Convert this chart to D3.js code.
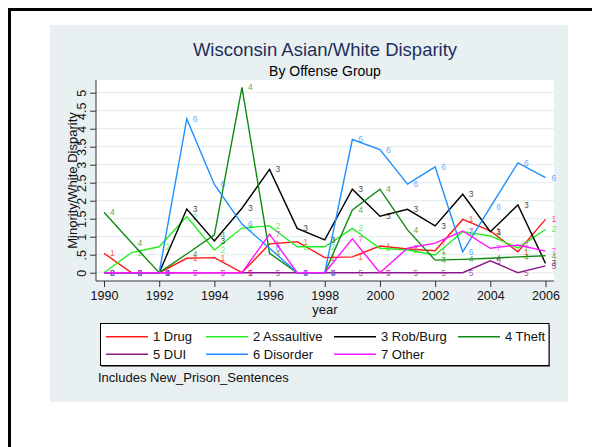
<!DOCTYPE html>
<html><head><meta charset="utf-8">
<script src="https://cdn.jsdelivr.net/npm/d3@7"></script>
<style>body{margin:0;background:#fff;} text{font-family:"Liberation Sans",Arial,sans-serif;}</style>
</head><body><svg id="c" width="592" height="447"></svg>
<script>
const years = [1990,1991,1992,1993,1994,1995,1996,1997,1998,1999,2000,2001,2002,2003,2004,2005,2006];
const seriesNames = ["1 Drug","2 Assaultive","3 Rob/Burg","4 Theft","5 DUI","6 Disorder","7 Other"];
const seriesLabels = ["1","2","3","4","5","6","7"];
const seriesColors = ["#ff1a1a","#22ee22","#000000","#108a10","#8b1a8b","#1e8fff","#ff14ff"];
const drug       = [0.54,0,0,0.40,0.42,0,0.80,0.86,0.42,0.44,0.74,0.66,0.61,1.48,1.16,0.58,1.48];
const assaultive = [0,0.56,0.72,1.56,0.63,1.24,1.30,0.72,0.72,1.23,0.68,0.63,0.49,1.14,1.02,0.69,1.20];
const robburg    = [0,0,0,1.77,0.88,1.79,2.87,1.23,0.91,2.32,1.57,1.76,1.30,2.18,1.14,1.88,0.26];
const theft      = [1.68,0.83,0,0.52,1.05,5.15,0.54,0,0,1.74,2.32,1.19,0.35,0.37,0.40,0.44,0.47];
const dui        = [0,0,0,0,0,0,0,0,0,0,0,0,0,0,0.33,0,0.19];
const disorder   = [0,0,0,4.27,2.45,1.35,0.68,0,0,3.70,3.42,2.46,2.94,0.58,1.82,3.05,2.64];
const other      = [0,0,0,0,0,0,1.07,0,0,0.94,0,0.68,0.82,1.16,0.68,0.77,0.60];
const allSeries = [drug,assaultive,robburg,theft,dui,disorder,other];
const xTicks = [1990,1992,1994,1996,1998,2000,2002,2004,2006];
const yTicks = [0,0.5,1,1.5,2,2.5,3,3.5,4,4.5,5];
const yTickLabels = ["0",".5","1","1.5","2","2.5","3","3.5","4","4.5","5"];
const title = "Wisconsin Asian/White Disparity";
const subtitle = "By Offense Group";
const xTitle = "year";
const yTitle = "Minority/White Disparity";
const note = "Includes New_Prison_Sentences";

const svg = d3.select("#c");
// outer frame
svg.append("rect").attr("x",9.5).attr("y",9.5).attr("width",640).attr("height",480)
  .attr("fill","#fff").attr("stroke","#000").attr("stroke-width",3);
// graph region
svg.append("rect").attr("x",50).attr("y",25).attr("width",518).attr("height",377).attr("fill","#e9f0f2");
// plot region
const P = {l:96, r:554, t:80, b:281};
svg.append("rect").attr("x",P.l).attr("y",P.t).attr("width",P.r-P.l).attr("height",P.b-P.t).attr("fill","#fff");

const x = d3.scaleLinear().domain([1990,2006]).range([104,545.5]);
const y = d3.scaleLinear().domain([0,5]).range([272.7,92.7]);

// grid
svg.append("g").selectAll("line").data(yTicks).join("line")
  .attr("x1",P.l).attr("x2",P.r).attr("y1",d=>y(d)).attr("y2",d=>y(d))
  .attr("stroke","#e2eaec").attr("stroke-width",1);

// axes
const yAxis = d3.axisLeft(y).tickValues(yTicks).tickFormat((d,i)=>yTickLabels[i]).tickSize(6).tickPadding(3);
const gy = svg.append("g").attr("transform",`translate(${P.l},0)`).call(yAxis);
gy.select(".domain").attr("d",`M0,${P.t}V${P.b}`).attr("stroke","#333");
gy.selectAll(".tick line").attr("stroke","#333");
gy.selectAll(".tick text").attr("font-size",12.5).attr("fill","#111")
  .attr("text-anchor","middle").attr("x",0).attr("dy",0)
  .attr("transform","translate(-10,0) rotate(-90)");

const xAxis = d3.axisBottom(x).tickValues(xTicks).tickFormat(d3.format("d")).tickSize(6).tickPadding(4);
const gx = svg.append("g").attr("transform",`translate(0,${P.b})`).call(xAxis);
gx.select(".domain").attr("d",`M${P.l},0H${P.r}`).attr("stroke","#333");
gx.selectAll(".tick line").attr("stroke","#333");
gx.selectAll(".tick text").attr("font-size",12.5).attr("fill","#111");

// titles
svg.append("text").attr("x",(P.l+P.r)/2).attr("y",56).attr("text-anchor","middle")
  .attr("font-size",18.5).attr("fill","#1e2f5e").text(title);
svg.append("text").attr("x",(P.l+P.r)/2).attr("y",75.5).attr("text-anchor","middle")
  .attr("font-size",14).attr("fill","#000").text(subtitle);
svg.append("text").attr("x",(P.l+P.r)/2).attr("y",314).attr("text-anchor","middle")
  .attr("font-size",13).attr("fill","#111").text(xTitle);
svg.append("text").attr("transform",`translate(77,${(P.t+P.b)/2}) rotate(-90)`).attr("text-anchor","middle")
  .attr("font-size",13).attr("fill","#111").text(yTitle);

// series
const line = d3.line().x((d,i)=>x(years[i])).y(d=>y(d));
allSeries.forEach((s,k)=>{
  const g = svg.append("g");
  g.append("path").attr("d",line(s)).attr("fill","none").attr("stroke",seriesColors[k]).attr("stroke-width",1.4);
  g.selectAll("text").data(s).join("text")
    .attr("x",(d,i)=>x(years[i])+6).attr("y",d=>y(d)).attr("dy","0.35em")
    .attr("font-size",8.5).attr("fill",seriesColors[k]).attr("fill-opacity",0.75).text(seriesLabels[k]);
});

// legend
const L = {x:100.5, y:323.5, w:448.5, h:42};
svg.append("rect").attr("x",L.x+1).attr("y",L.y+1.5).attr("width",L.w).attr("height",L.h).attr("fill","#777");
svg.append("rect").attr("x",L.x).attr("y",L.y).attr("width",L.w).attr("height",L.h).attr("fill","#fff").attr("stroke","#000").attr("stroke-width",1);
const colX = [106,206,334,458];
const rowY = [336.7,354.3];
seriesNames.forEach((n,k)=>{
  const c = k%4, r = Math.floor(k/4);
  svg.append("line").attr("x1",colX[c]).attr("x2",colX[c]+42).attr("y1",rowY[r]).attr("y2",rowY[r])
    .attr("stroke",seriesColors[k]).attr("stroke-width",1.4);
  svg.append("text").attr("x",colX[c]+47).attr("y",rowY[r]).attr("dy","0.35em")
    .attr("font-size",13).attr("fill","#111").text(n);
});
svg.append("text").attr("x",98).attr("y",382).attr("font-size",13).attr("fill","#111").text(note);
</script></body></html>
